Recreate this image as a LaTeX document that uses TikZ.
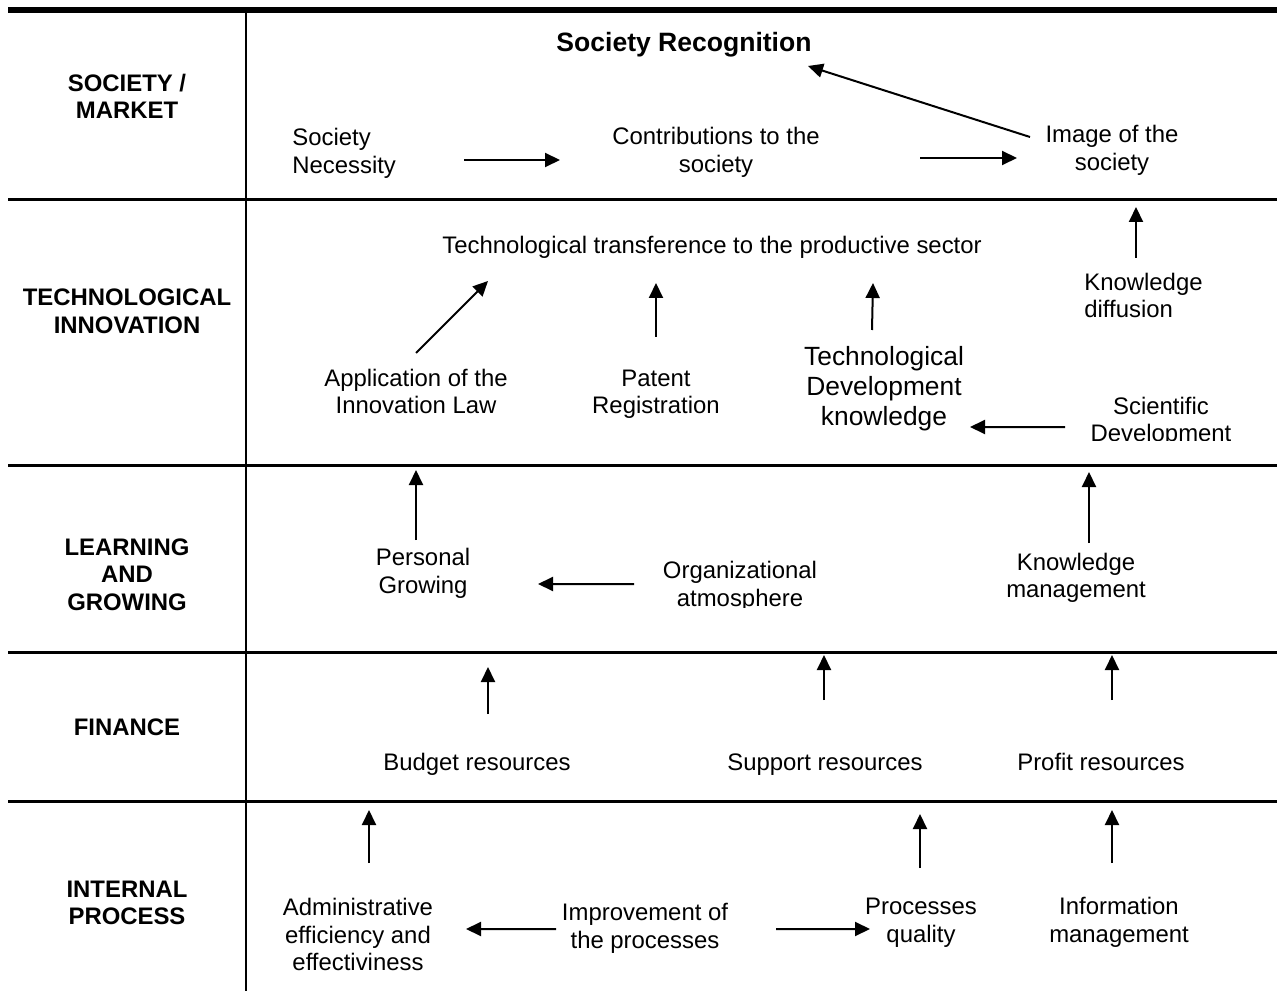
\documentclass[tikz,border=0pt]{standalone}
\usepackage{fontspec}
\setmainfont{Liberation Sans}
\usetikzlibrary{arrows.meta,calc}
\tikzset{
  lbl/.style={font=\fontsize{13.6}{15.65}\selectfont, align=center, inner sep=0pt},
  hdr/.style={font=\bfseries\fontsize{13.6}{15.65}\selectfont, align=center, inner sep=0pt},
  big/.style={font=\fontsize{15}{17}\selectfont, align=center, inner sep=0pt},
  arr/.style={line width=0.4mm, -{Triangle[length=3mm,width=2.8mm]}},
  band/.style={line width=0.6mm},
}
\begin{document}
\begin{tikzpicture}[x=0.2mm,y=-0.2mm]
\useasboundingbox (0,0) rectangle (1277,993);
% frame lines
\draw[line width=1.2mm] (8,10) -- (1277,10);
\draw[line width=0.4mm] (246,13) -- (246,991);
\draw[band] (8,200) -- (1277,200);
\draw[band] (8,465) -- (1277,465);
\draw[band] (8,652) -- (1277,652);
\draw[band] (8,801) -- (1277,801);
% row headers
\node[hdr] (hsoc) at (127,96.5) {SOCIETY /\\MARKET};
\node[hdr] (hti) at (127,311.5) {TECHNOLOGICAL\\INNOVATION};
\node[hdr] (hlg) at (127,574.5) {LEARNING\\AND\\GROWING};
\node[hdr] (hfin) at (127,727) {FINANCE};
\node[hdr] (hip) at (127,903) {INTERNAL\\PROCESS};
% society / market
\node[big, font=\bfseries\fontsize{15.1}{17}\selectfont] (rec) at (684,45) {Society Recognition};
\begin{scope}
  \clip (250,100) rectangle (1000,178);
  \node[lbl, align=left, anchor=west] (nec) at (292,153.5) {Society\\Necessity};
  \node[lbl] (contr) at (716,152.5) {Contributions to the\\society};
\end{scope}
\node[lbl] (img) at (1112,150.5) {Image of the\\society};
% technological innovation
\node[lbl] (trans) at (712,247) {Technological transference to the productive sector};
\node[lbl, align=left, anchor=west] (kdif) at (1084,295.5) {Knowledge\\diffusion};
\node[lbl] (app) at (416,391.5) {Application of the\\Innovation Law};
\node[lbl] (pat) at (656,394.5) {Patent\\Registration};
\node[big] (tdk) at (884,388.5) {Technological\\Development\\knowledge};
\begin{scope}
  \clip (1000,380) rectangle (1277,440);
  \node[lbl] (sci) at (1161,422) {Scientific\\Development};
\end{scope}
% learning and growing
\node[lbl] (pg) at (423,573.5) {Personal\\Growing};
\begin{scope}
  \clip (600,540) rectangle (900,607);
  \node[lbl] (org) at (740,586.5) {Organizational\\atmosphere};
\end{scope}
\node[lbl] (km) at (1076,578) {Knowledge\\management};
% finance
\node[lbl] (bud) at (477,764) {Budget resources};
\node[lbl] (sup) at (825,765) {Support resources};
\node[lbl] (pro) at (1101,762) {Profit resources};
% internal process
\node[lbl] (adm) at (358,934.5) {Administrative\\efficiency and\\effectiviness};
\node[lbl] (imp) at (645,928.5) {Improvement of\\the processes};
\begin{scope}
  \clip (850,880) rectangle (1000,946);
  \node[lbl] (pq) at (921,923) {Processes\\quality};
\end{scope}
\node[lbl] (inf) at (1119,922.5) {Information\\management};
% connectors
\draw[arr] ($(nec.west)+(172,6.5)$) -- ($(contr)+(-156,7.5)$);
\draw[arr] ($(contr)+(204,5.5)$) -- ($(img)+(-95,7.5)$);
\draw[arr] ($(img)+(-82,-13.5)$) -- ($(rec)+(124,21)$);
\draw[arr] ($(kdif.west)+(52,-37.5)$) -- ($(img)+(24,56.5)$);
\draw[arr] ($(app)+(0,-38.5)$) -- ($(trans)+(-224,34)$);
\draw[arr] ($(pat)+(0,-57.5)$) -- ($(trans)+(-56,36)$);
\draw[arr] ($(tdk)+(-12,-58.5)$) -- ($(trans)+(161,36)$);
\draw[arr] ($(sci)+(-96,5)$) -- ($(tdk)+(86,38.5)$);
\draw[arr] ($(pg)+(-7,-33.5)$) -- ($(app)+(0,78.5)$);
\draw[arr] ($(km)+(13,-35)$) -- ($(sci)+(-72,50)$);
\draw[arr] ($(org)+(-106,-2.5)$) -- ($(pg)+(115,10.5)$);
\draw[arr] ($(bud)+(11,-50)$) -- ($(pg)+(65,93.5)$);
\draw[arr] ($(sup)+(-1,-65)$) -- ($(org)+(84,68.5)$);
\draw[arr] ($(pro)+(11,-62)$) -- ($(km)+(36,77)$);
\draw[arr] ($(adm)+(11,-71.5)$) -- ($(bud)+(-108,46)$);
\draw[arr] ($(pq)+(-1,-55)$) -- ($(sup)+(95,49)$);
\draw[arr] ($(inf)+(-7,-59.5)$) -- ($(pro)+(11,48)$);
\draw[arr] ($(imp)+(-89,0.5)$) -- ($(adm)+(108,-5.5)$);
\draw[arr] ($(imp)+(131,0.5)$) -- ($(pq)+(-51,6)$);
\end{tikzpicture}
\end{document}
